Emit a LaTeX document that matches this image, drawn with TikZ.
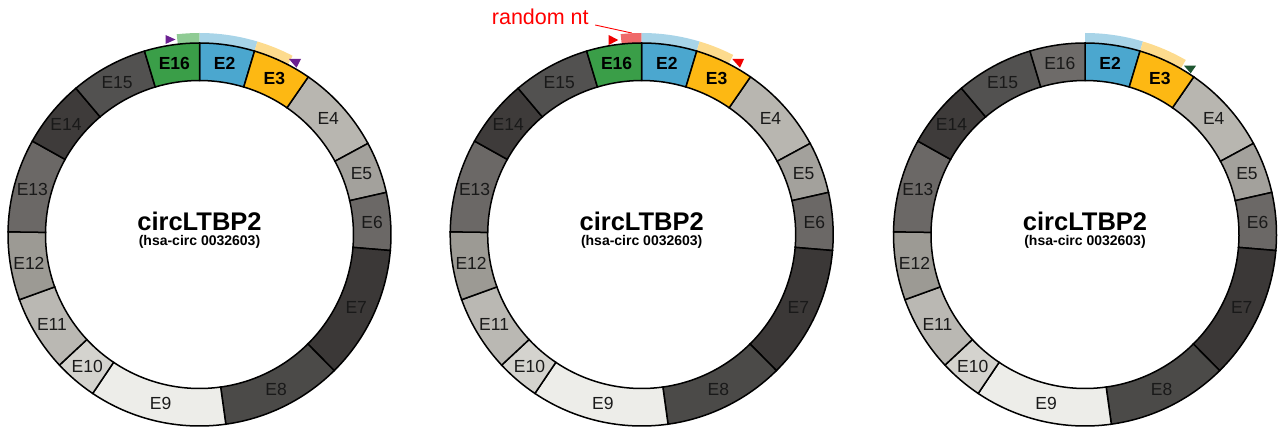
\documentclass[tikz,border=0pt]{standalone}
\usepackage{fontspec}
\setmainfont{Liberation Sans}
\definecolor{cE2}{HTML}{4BA7CF}
\definecolor{cE3}{HTML}{FDB813}
\definecolor{cE16}{HTML}{3A9E48}
\definecolor{cE16g}{HTML}{6E6B69}
\definecolor{lE2}{HTML}{A8D4E8}
\definecolor{lE3}{HTML}{FDDB8E}
\definecolor{lE16}{HTML}{8FCB94}
\definecolor{cE4}{HTML}{B8B6B0}
\definecolor{cE5}{HTML}{A3A19C}
\definecolor{cE6}{HTML}{6B6866}
\definecolor{cE7}{HTML}{3B3837}
\definecolor{cE8}{HTML}{4B4A48}
\definecolor{cE9}{HTML}{EDEDE9}
\definecolor{cE10}{HTML}{D4D3CE}
\definecolor{cE11}{HTML}{BAB8B3}
\definecolor{cE12}{HTML}{9C9A94}
\definecolor{cE13}{HTML}{6B6866}
\definecolor{cE14}{HTML}{3E3B3A}
\definecolor{cE15}{HTML}{525150}
\definecolor{primpurple}{HTML}{6B2091}
\definecolor{primred}{HTML}{F00000}
\definecolor{primgreen}{HTML}{1E5631}
\definecolor{rntbox}{HTML}{EF6A6A}
\def\Ro{191.5}
\def\Ri{154}
\tikzset{
  seglab/.style={font=\fontsize{17.5}{17.5}\selectfont, text=black!90, inner sep=0pt},
  segbold/.style={font=\fontsize{17.5}{17.5}\selectfont\bfseries, text=black, inner sep=0pt},
  segpath/.style={draw=black, line width=1.5pt, line join=miter},
  titletext/.style={font=\fontsize{25.5}{25.5}\selectfont\bfseries, inner sep=0pt, anchor=base},
  subtext/.style={font=\fontsize{14}{14}\selectfont\bfseries, inner sep=0pt, anchor=base},
}
% start angle, end angle, colour, label, label style, node name
\newcommand{\exonseg}[6]{%
  \path[segpath, fill=#3] (#1:\Ro) arc[start angle=#1, end angle=#2, radius=\Ro]
     -- (#2:\Ri) arc[start angle=#2, end angle=#1, radius=\Ri] -- cycle;
  \node[#5] (#6) at ({(#1+#2)/2}:173) {#4};
}
% light band outside ring
\newcommand{\band}[3]{%
  \fill[#3] (#1:\Ro) arc[start angle=#1, end angle=#2, radius=\Ro]
     -- (#2:\Ro+10) arc[start angle=#2, end angle=#1, radius=\Ro+10] -- cycle;
}
\newcommand{\commonexons}[1]{%
  \foreach \a/\b/\c/\l in {55.4/28.4/cE4/E4, 28.4/12.7/cE5/E5, 12.7/-4.8/cE6/E6,
     -4.8/-45.3/cE7/E7, -45.3/-82.1/cE8/E8, -82.1/-123.9/cE9/E9,
     -123.9/-137/cE10/E10, -137/-160.1/cE11/E11, -160.1/-180.8/cE12/E12,
     -180.8/-209.2/cE13/E13, -209.2/-229.8/cE14/E14, -229.8/-253.3/cE15/E15}{
    \exonseg{\a}{\b}{\c}{\l}{seglab}{#1\l}
  }
  \exonseg{90}{73.3}{cE2}{E2}{segbold}{#1E2}
  \exonseg{73.3}{55.4}{cE3}{E3}{segbold}{#1E3}
  \node[titletext] (#1title) at (0,4.5) {circLTBP2};
  \node[subtext] (#1sub) at (0,-10.5) {(hsa-circ 0032603)};
}
\begin{document}
\begin{tikzpicture}[x=1pt,y=1pt]
\useasboundingbox (0,0) rectangle (1279,-428);
\fill[white] (0,0) rectangle (1279,-428);
% ---------- ring 1 ----------
\begin{scope}[shift={(199.5,-234.5)}]
  \band{96.5}{90}{lE16}
  \band{90}{73.3}{lE2}
  \band{73.3}{62.5}{lE3}
  \commonexons{a}
  \exonseg{-253.3}{-270}{cE16}{E16}{segbold}{aE16}
  \fill[primpurple] (-34,199.5) -- (-34,190.5) -- (-24,195) -- cycle;
  \fill[primpurple] (89.5,175.5) -- (101.5,175.5) -- (97,166.8) -- cycle;
\end{scope}
% ---------- ring 2 ----------
\begin{scope}[shift={(641.7,-234.5)}]
  \band{96}{90}{rntbox}
  \band{90}{73.3}{lE2}
  \band{73.3}{63}{lE3}
  \commonexons{b}
  \exonseg{-253.3}{-270}{cE16}{E16}{segbold}{bE16}
  \fill[primred] (-33,199.5) -- (-33,189.5) -- (-23.5,194.5) -- cycle;
  \fill[primred] (90.6,175.5) -- (102.3,175.5) -- (98.3,166.8) -- cycle;
  \node[font=\fontsize{21.5}{21.5}\selectfont, text=red, anchor=base west, inner sep=0pt]
     (rnt) at (-150,209.5) {random nt};
  \coordinate (rntfrom) at (-46.5,209.5);
  \coordinate (rntto) at (-10,201.5);
  \draw[red, line width=0.9pt] (rntfrom) -- (rntto);
\end{scope}
% ---------- ring 3 ----------
\begin{scope}[shift={(1085,-234.5)}]
  \band{90}{73.3}{lE2}
  \band{73.3}{60}{lE3}
  \commonexons{c}
  \exonseg{-253.3}{-270}{cE16g}{E16}{seglab}{cE16}
  \fill[primgreen] (99,168.8) -- (111,168.8) -- (105.7,161.2) -- cycle;
\end{scope}
\end{tikzpicture}
\end{document}
